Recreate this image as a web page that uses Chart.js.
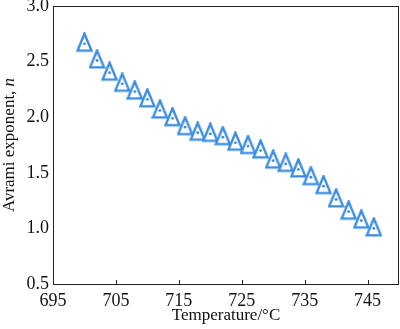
<!DOCTYPE html>
<html>
<head>
<meta charset="utf-8">
<script src="https://cdn.jsdelivr.net/npm/chart.js@4.4.1/dist/chart.umd.min.js"></script>
<style>
  html, body { margin: 0; padding: 0; background: #fff; }
  #wrap { width: 400px; height: 329px; }
</style>
</head>
<body>
<div id="wrap"><canvas id="myChart" width="400" height="329"></canvas></div>
<script>
// Avrami exponent vs. transformation temperature
const temperatures = [700, 702, 704, 706, 708, 710, 712, 714, 716, 718, 720, 722,
                      724, 726, 728, 730, 732, 734, 736, 738, 740, 742, 744, 746];
const avramiN = [2.66, 2.51, 2.40, 2.30, 2.23, 2.16, 2.06, 1.99, 1.91, 1.86, 1.85, 1.82,
                 1.77, 1.74, 1.70, 1.61, 1.58, 1.53, 1.46, 1.38, 1.26, 1.15, 1.07, 1.00];
const xTicks = [695, 705, 715, 725, 735, 745];
const yTicks = [0.5, 1.0, 1.5, 2.0, 2.5, 3.0];

const blue = 'rgb(58, 140, 224)';
const serif = '"Liberation Serif", "DejaVu Serif", serif';

// tall open triangle marker, point sits a bit above the base
function makeTriangle() {
    const c = document.createElement('canvas');
    c.width = 17;
    c.height = 23;
    const g = c.getContext('2d');
    g.lineWidth = 2.4;
    g.strokeStyle = blue;
    g.fillStyle = '#fff';
    g.lineJoin = 'miter';
    g.beginPath();
    g.moveTo(8.5, 1.5);
    g.lineTo(1.5, 18.4);
    g.lineTo(15.5, 18.4);
    g.closePath();
    g.fill();
    g.stroke();
    return c;
}
const triangle = makeTriangle();

const points = temperatures.map((t, i) => ({ x: t, y: avramiN[i] }));

const framePlugin = {
    id: 'frame',
    afterDraw(chart) {
        const { ctx, chartArea: a, scales } = chart;
        ctx.save();
        ctx.strokeStyle = '#222';
        ctx.lineWidth = 1;
        ctx.strokeRect(a.left + 0.5, a.top + 0.5, a.right - a.left - 1, a.bottom - a.top);

        // inward ticks on the temperature axis
        xTicks.slice(1).forEach(v => {
            const px = Math.round(scales.x.getPixelForValue(v)) + 0.5;
            ctx.beginPath();
            ctx.moveTo(px, a.bottom);
            ctx.lineTo(px, a.bottom - 4);
            ctx.stroke();
        });

        // axis titles
        ctx.fillStyle = '#111';
        ctx.textBaseline = 'middle';
        ctx.font = '17px ' + serif;
        ctx.textAlign = 'center';
        ctx.fillText('Temperature/\u00B0C', (a.left + a.right) / 2, 316);

        ctx.translate(10, (a.top + a.bottom) / 2);
        ctx.rotate(-Math.PI / 2);
        const part1 = 'Avrami exponent, ';
        ctx.font = '17px ' + serif;
        const w1 = ctx.measureText(part1).width;
        ctx.font = 'italic 17px ' + serif;
        const w2 = ctx.measureText('n').width;
        const x0 = -(w1 + w2) / 2;
        ctx.textAlign = 'left';
        ctx.font = '17px ' + serif;
        ctx.fillText(part1, x0, 0);
        ctx.font = 'italic 17px ' + serif;
        ctx.fillText('n', x0 + w1, 0);
        ctx.restore();
    }
};

new Chart(document.getElementById('myChart'), {
    type: 'scatter',
    data: {
        datasets: [
            {
                data: points,
                pointRadius: 1.4,
                pointBackgroundColor: blue,
                pointBorderWidth: 0,
                showLine: false,
                order: 0
            },
            {
                data: points,
                pointStyle: triangle,
                pointRadius: 8,
                showLine: false,
                order: 1
            }
        ]
    },
    options: {
        responsive: false,
        animation: false,
        events: [],
        layout: { autoPadding: false, padding: { top: 6, right: 1, left: 0, bottom: 0 } },
        plugins: {
            legend: { display: false },
            tooltip: { enabled: false }
        },
        scales: {
            x: {
                type: 'linear',
                min: 695,
                max: 750,
                afterBuildTicks: s => { s.ticks = xTicks.map(v => ({ value: v })); },
                afterFit: s => { s.height = 45; s.paddingLeft = 0; s.paddingRight = 0; },
                border: { display: false },
                grid: { display: false, drawTicks: false },
                ticks: {
                    padding: 6,
                    color: '#111',
                    font: { family: serif, size: 18 },
                    maxRotation: 0,
                    callback: v => String(v)
                }
            },
            y: {
                min: 0.5,
                max: 3.0,
                afterBuildTicks: s => { s.ticks = yTicks.map(v => ({ value: v })); },
                afterFit: s => { s.width = 53; s.paddingTop = 0; s.paddingBottom = 0; },
                border: { display: false },
                grid: { display: false, drawTicks: false },
                ticks: {
                    padding: 4,
                    color: '#111',
                    font: { family: serif, size: 18 },
                    callback: v => Number(v).toFixed(1)
                }
            }
        }
    },
    plugins: [framePlugin]
});
</script>
</body>
</html>
